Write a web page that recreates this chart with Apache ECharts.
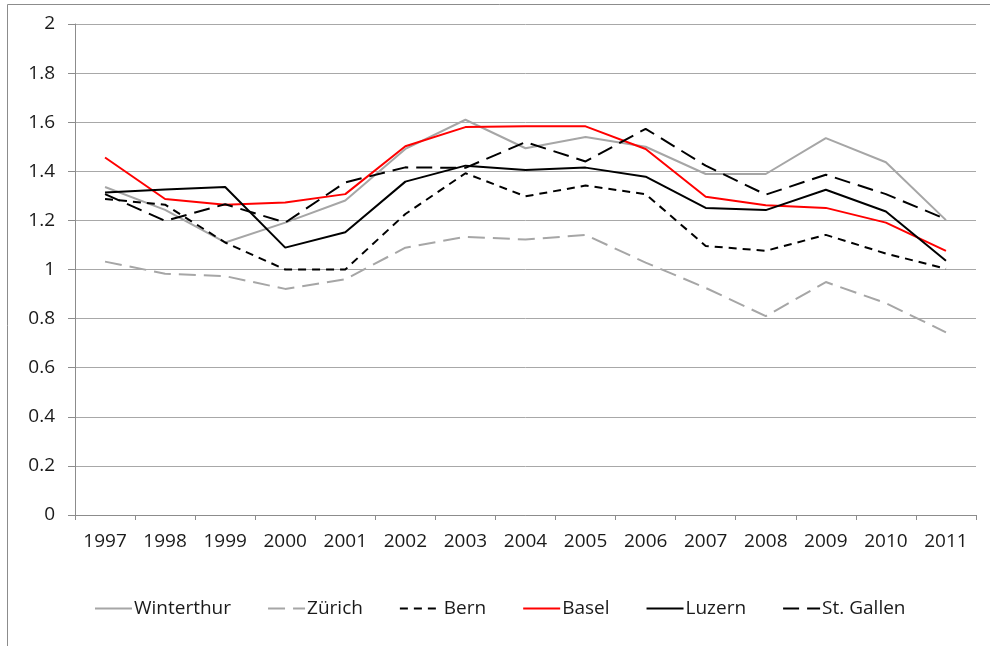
<!DOCTYPE html>
<html>
<head>
<meta charset="utf-8">
<script src="https://cdn.jsdelivr.net/npm/echarts@6/dist/echarts.min.js"></script>
<style>
  html, body { margin: 0; padding: 0; background: #fff; }
  #chart { width: 990px; height: 646px; }
</style>
</head>
<body>
<div id="chart"></div>
<script>
// years on the x axis
const years = ['1997', '1998', '1999', '2000', '2001', '2002', '2003', '2004',
  '2005', '2006', '2007', '2008', '2009', '2010', '2011']

// values
const winterthur = [1.336, 1.243, 1.110, 1.191, 1.281, 1.491, 1.610, 1.494, 1.540, 1.500, 1.389, 1.389, 1.535, 1.437, 1.201]
const zuerich = [1.032, 0.983, 0.973, 0.921, 0.960, 1.089, 1.133, 1.122, 1.141, 1.028, 0.925, 0.810, 0.949, 0.863, 0.744]
const bern = [1.287, 1.264, 1.110, 1.000, 1.000, 1.226, 1.392, 1.298, 1.342, 1.307, 1.096, 1.076, 1.141, 1.065, 1.003]
const basel = [1.456, 1.287, 1.264, 1.273, 1.307, 1.502, 1.580, 1.584, 1.583, 1.491, 1.296, 1.262, 1.251, 1.191, 1.076]
const luzern = [1.314, 1.326, 1.336, 1.089, 1.152, 1.358, 1.423, 1.405, 1.415, 1.378, 1.251, 1.242, 1.325, 1.236, 1.036]
const stGallen = [1.307, 1.198, 1.266, 1.191, 1.355, 1.416, 1.414, 1.519, 1.440, 1.573, 1.423, 1.305, 1.386, 1.307, 1.205]

const FONT = '"Open Sans", "Noto Sans", sans-serif'
const GRAY = '#a6a6a6'

const mkLine = (name, data, color, type) => ({
  name,
  type: 'line',
  data,
  symbol: 'none',
  smooth: false,
  lineStyle: { color, width: 2, type },
  itemStyle: { color }
})

const chart = echarts.init(document.getElementById('chart'), null, { renderer: 'canvas' })

chart.setOption({
  animation: false,
  backgroundColor: '#fff',
  graphic: [{
    type: 'rect',
    shape: { x: 7.5, y: 4.5, width: 1000, height: 700 },
    style: { fill: 'none', stroke: '#8c8c8c', lineWidth: 1 },
    silent: true
  }],
  grid: { left: 75, right: 14, top: 24, bottom: 131 },
  legend: {
    left: 89,
    top: 594,
    itemWidth: 37,
    itemHeight: 12,
    itemGap: 36,
    itemStyle: { opacity: 0 },
    textStyle: { fontFamily: FONT, fontSize: 19, color: '#1a1a1a', padding: [0, 0, 0, -3] },
    data: ['Winterthur', 'Zürich', ' Bern', 'Basel', 'Luzern', 'St. Gallen']
  },
  xAxis: {
    type: 'category',
    data: years,
    boundaryGap: true,
    axisLine: { lineStyle: { color: '#8c8c8c', width: 1 } },
    axisTick: { show: true, length: 5, lineStyle: { color: '#8c8c8c' } },
    axisLabel: { fontFamily: FONT, fontSize: 19, color: '#1a1a1a', margin: 17 }
  },
  yAxis: {
    type: 'value',
    min: 0,
    max: 2,
    interval: 0.2,
    axisLine: { show: true, lineStyle: { color: '#8c8c8c', width: 1 } },
    axisTick: { show: true, length: 7, lineStyle: { color: '#8c8c8c' } },
    axisLabel: { fontFamily: FONT, fontSize: 19, color: '#1a1a1a', margin: 20 },
    splitLine: { lineStyle: { color: '#a8a8a8', width: 1 } }
  },
  series: [
    mkLine('Winterthur', winterthur, GRAY, 'solid'),
    mkLine('Zürich', zuerich, GRAY, [17, 8]),
    mkLine(' Bern', bern, '#000', [8, 6]),
    mkLine('Basel', basel, '#ff0000', 'solid'),
    mkLine('Luzern', luzern, '#000', 'solid'),
    mkLine('St. Gallen', stGallen, '#000', [16, 8])
  ]
})
</script>
</body>
</html>
